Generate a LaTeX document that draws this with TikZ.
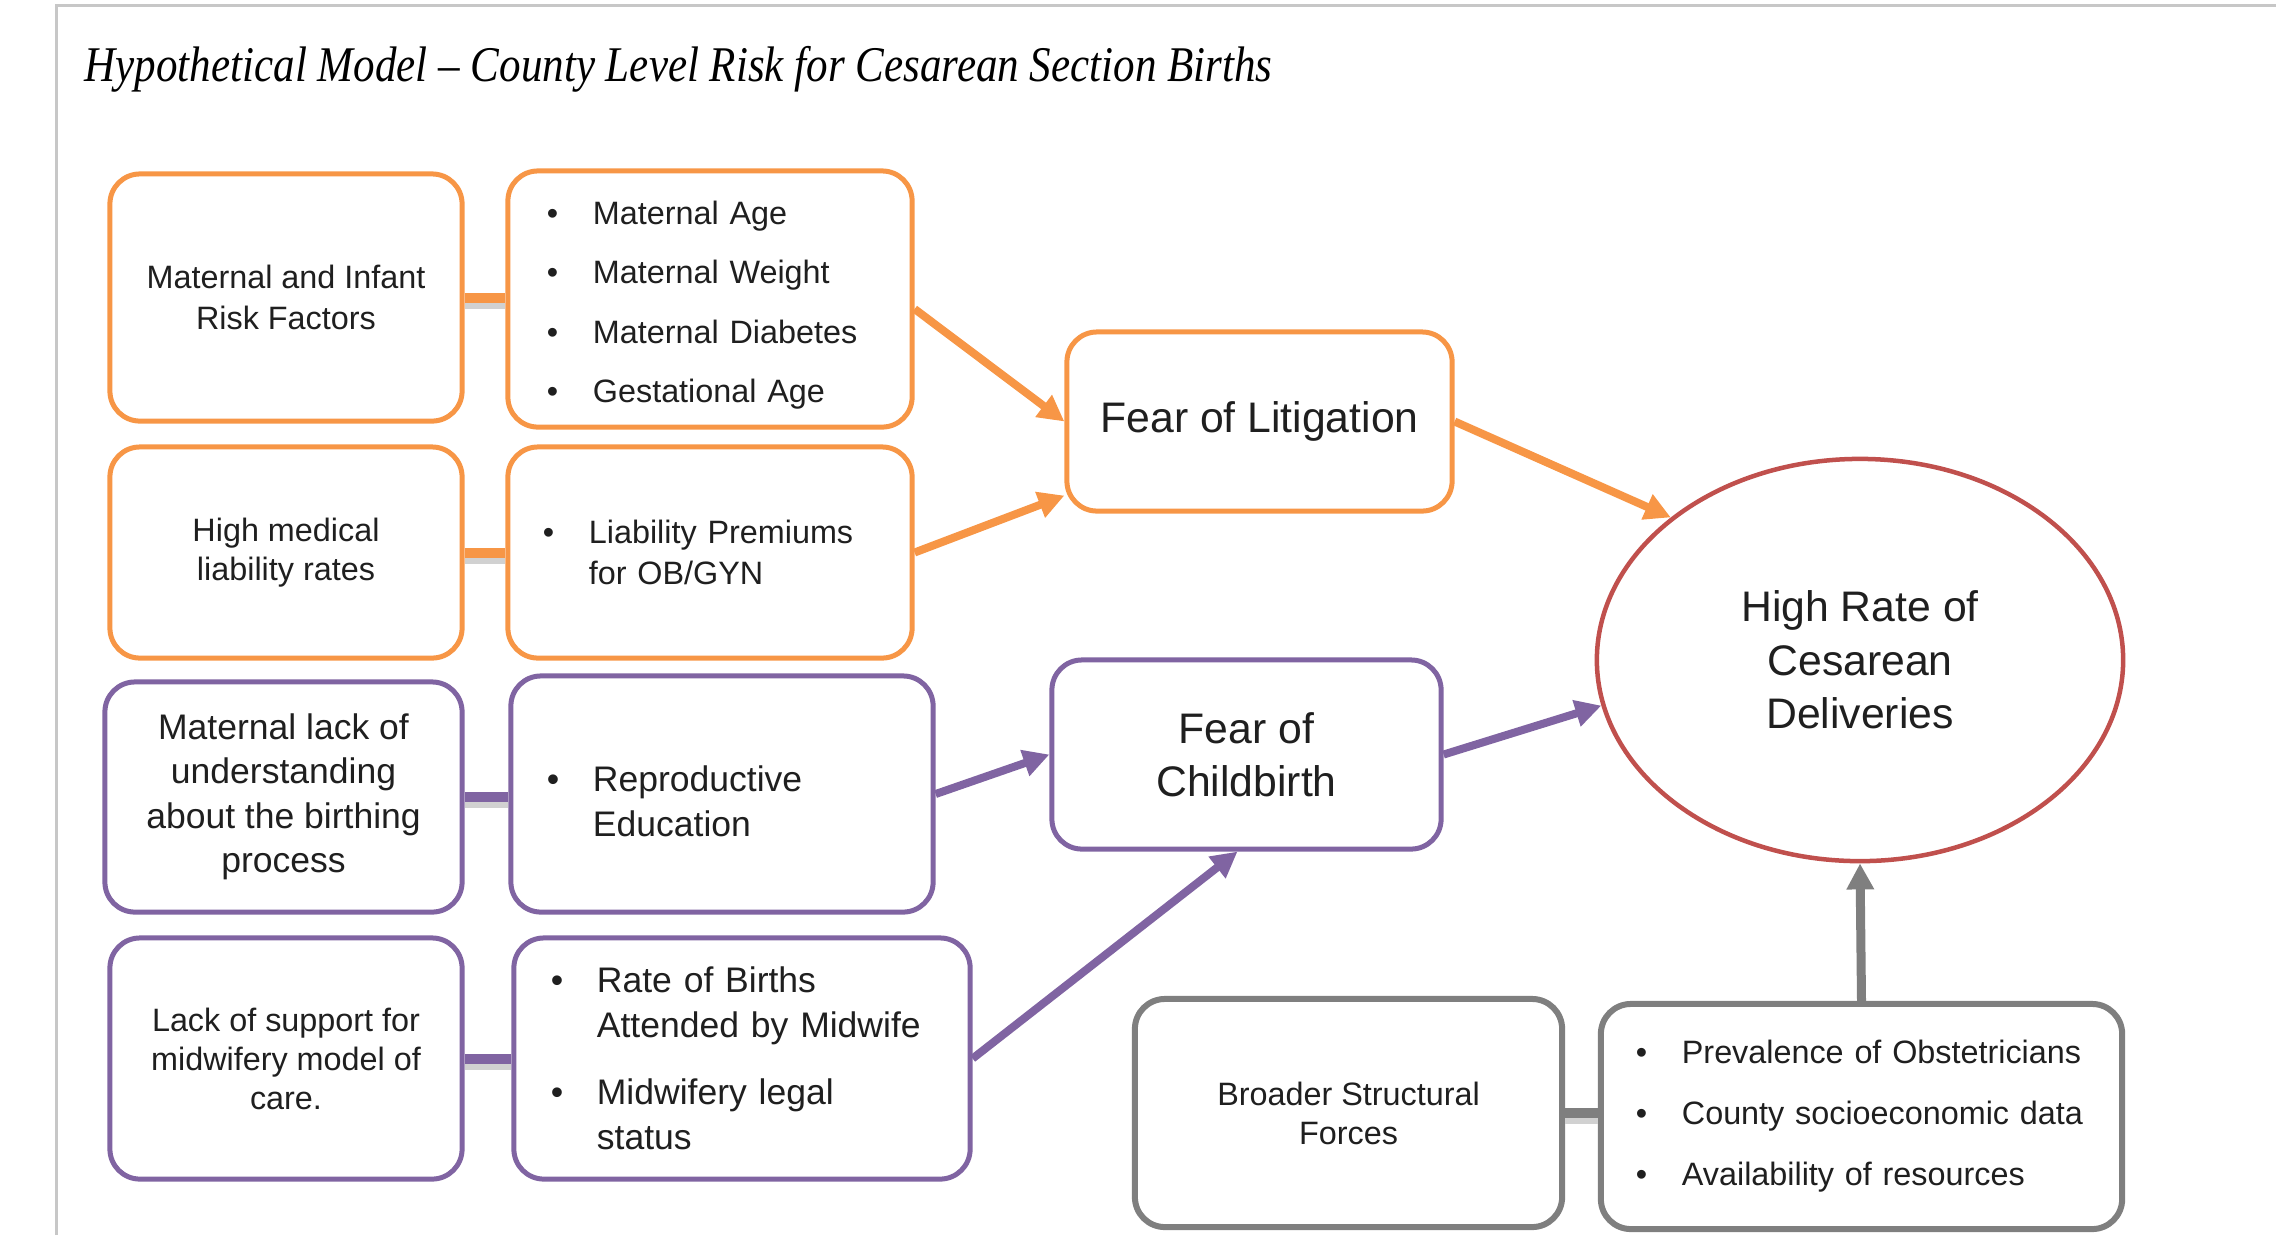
\documentclass[tikz,border=0pt]{standalone}
\usepackage{graphicx}
\usepackage{fontspec}
\setmainfont{Liberation Sans}
\newfontfamily\titlefont{Liberation Serif}
\usetikzlibrary{arrows.meta,calc,shapes.geometric}

\definecolor{orng}{HTML}{F79646}
\definecolor{purp}{HTML}{8064A2}
\definecolor{redc}{HTML}{C0504D}
\definecolor{gryc}{HTML}{7F7F7F}

\newcommand{\itembul}{\makebox[0.46cm][l]{\textbullet}}
\newcommand{\itemind}{\hspace*{0.46cm}}

\begin{document}
\begin{tikzpicture}
        [x=0.01cm, y=-0.01cm,
        box/.style={rounded corners=0.3cm, line width=0.05cm, fill=white, inner sep=0pt, align=center, text=black!88},
        obox/.style={box, draw=orng},
        pbox/.style={box, draw=purp},
        gbox/.style={box, draw=gryc, line width=0.06cm},
        list/.style={align=left, text width=#1},
        smalltext/.style={font={\fontsize{9.2}{#1}\selectfont}},
        smalltext/.default=11.1,
        medtext/.style={font={\fontsize{10.1}{#1}\selectfont}},
        medtext/.default=12.66,
        bigtext/.style={font={\fontsize{12.15}{15.2}\selectfont}},
        arr/.style={line width=0.08cm, -{Triangle[length=0.26cm, width=0.26cm]}},
        link/.style={line width=0.1cm},
        linkshade/.style={black!18, line width=0.08cm, transform canvas={yshift=-0.07cm}}]

        \useasboundingbox (0,0) rectangle (2276,1235);

        % frame of the screenshot
        \draw[black!22, line width=0.03cm] (56,1235) -- (56,5) -- (2276,5);

        \node[anchor=base west, inner sep=0pt, font=\titlefont\itshape\fontsize{14.2}{17}\selectfont] (title) at (84,81)
            {\scalebox{0.862}[1]{Hypothetical Model – County Level Risk for Cesarean Section Births}};

        % orange boxes
        \node[obox, smalltext=11.55, minimum width=3.52cm, minimum height=2.47cm] (mirf) at (286,297.5) {Maternal and Infant\\Risk Factors};
        \node[obox, smalltext=16.9, list=3.26cm, minimum width=4.04cm, minimum height=2.56cm] (mirfl) at (710,299)
            {\rule{0pt}{0.36cm}\itembul Maternal Age\\\itembul Maternal Weight\\\itembul Maternal Diabetes\\\itembul Gestational Age};
        \node[obox, smalltext, minimum width=3.52cm, minimum height=2.11cm] (hmlr) at (286,552.5) {High medical\\liability rates};
        \node[obox, smalltext=11.55, list=3.34cm, minimum width=4.04cm, minimum height=2.11cm] (liab) at (710,552.5)
            {\itembul Liability Premiums\\\itemind for OB/GYN};
        \node[obox, bigtext, minimum width=3.85cm, minimum height=1.79cm] (fol) at (1259.5,421.5) {Fear of Litigation};

        % purple boxes
        \node[pbox, medtext, minimum width=3.57cm, minimum height=2.3cm] (mlu) at (283.5,797)
            {Maternal lack of\\understanding\\about the birthing\\process};
        \node[pbox, medtext=12.8, list=3.5cm, minimum width=4.22cm, minimum height=2.36cm] (repro) at (722,794)
            {\rule{0pt}{0.4cm}\itembul Reproductive\\\itemind Education};
        \node[pbox, smalltext, minimum width=3.52cm, minimum height=2.41cm] (lsm) at (286,1058.5)
            {Lack of support for\\midwifery model of\\care.};
        \node[pbox, medtext=12.8, list=3.82cm, minimum width=4.56cm, minimum height=2.41cm] (births) at (742,1058.5)
            {\itembul Rate of Births\\\itemind Attended by Midwife\\[0.22cm]\itembul Midwifery legal\\\itemind status};
        \node[pbox, bigtext, minimum width=3.89cm, minimum height=1.89cm] (foc) at (1246.5,754.5) {Fear of\\Childbirth};

        % outcome
        \node[ellipse, draw=redc, line width=0.045cm, fill=white, inner sep=0pt, align=center, text=black!88, bigtext,
            minimum width=5.26cm, minimum height=4.02cm] (hrcd) at (1860,660) {High Rate of\\Cesarean\\Deliveries};

        % gray boxes
        \node[gbox, smalltext, minimum width=4.27cm, minimum height=2.28cm] (bsf) at (1348.5,1113) {Broader Structural\\Forces};
        \node[gbox, smalltext=17.35, list=4.51cm, minimum width=5.21cm, minimum height=2.25cm] (bsfl) at (1861.5,1116.5)
            {\itembul Prevalence of Obstetricians\\\itembul County socioeconomic data\\\itembul Availability of resources};

        % short links between box pairs
        \foreach \a/\b/\c in {mirf/mirfl/orng, hmlr/liab/orng, mlu/repro/purp, lsm/births/purp, bsf/bsfl/gryc}{
            \draw[linkshade] (\a.east) -- (\a.east -| \b.west);
            \draw[link, \c] (\a.east) -- (\a.east -| \b.west);
        }

        % arrows
        \draw[arr, orng] ($(mirfl.east)+(0,10)$) -- (fol.west);
        \draw[arr, orng] (liab.east) -- ($(fol.south west)+(0,-18)$);
        \draw[arr, orng] (fol.east) -- (hrcd.143);
        \draw[arr, purp] (repro.east) -- (foc.west);
        \draw[arr, purp] (births.east) -- ($(foc.south)+(-9,0)$);
        \draw[arr, purp] (foc.east) -- (hrcd.190);
        \draw[arr, gryc, line width=0.09cm] (bsfl.north) -- (hrcd.south);

\end{tikzpicture}
\end{document}
